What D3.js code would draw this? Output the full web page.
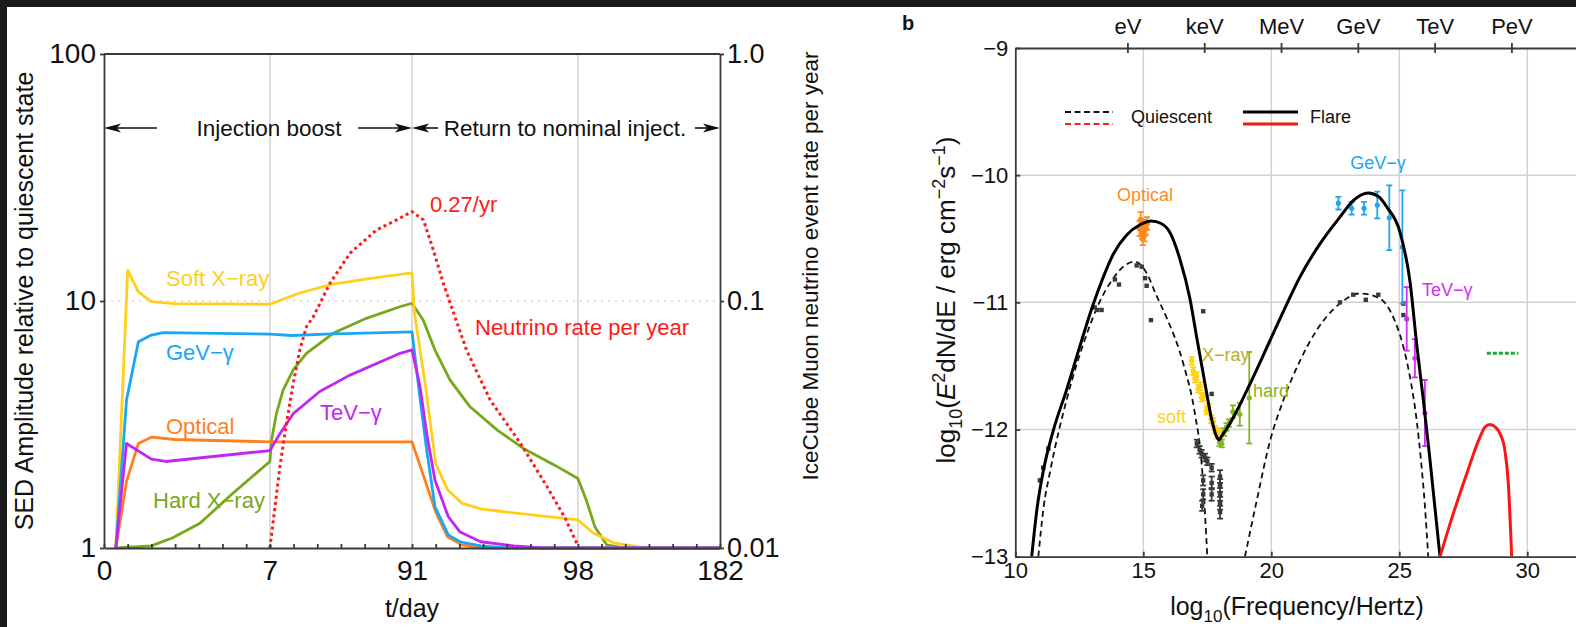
<!DOCTYPE html>
<html><head><meta charset="utf-8">
<script src="https://cdn.jsdelivr.net/npm/d3@7"></script>
<style>body{margin:0;background:#1b1b1b;} svg{display:block;font-family:"Liberation Sans",Arial,sans-serif;}</style>
</head><body><svg id="c" width="1576" height="627"></svg>
<script>
// ---------- Panel a data: [day, amplitude] ----------
const tickDaysA = [0,1,2,3,4,5,6,7,21,35,49,63,77,91,92,93,94,95,96,97,98,112,126,140,154,168,182];
const labelDaysA = [0,7,91,98,182];
const gridDaysA = [7,91,98];
const softXray = [[0.5,1],[1,13.3],[1.45,10.9],[2,9.95],[3,9.75],[7,9.7],[25,10.8],[44,11.7],[72,12.5],[91,13.0],[91.1,9],[91.55,4.66],[92,2.2],[92.5,1.72],[93.1,1.52],[93.9,1.44],[95.2,1.39],[98,1.30],[107,1.15],[119,1.05],[134,1.01],[150,1],[182,1]];
const hardXray = [[0.5,1],[2,1.02],[2.9,1.1],[4.05,1.26],[5.45,1.67],[7,2.24],[8,2.74],[10.9,3.51],[14.8,4.36],[20.8,5.26],[28.6,6.14],[44.4,7.4],[64,8.51],[83.8,9.48],[91,9.79],[91.47,8.38],[91.97,6.33],[92.6,4.79],[93.45,3.73],[94.6,3.0],[95.7,2.53],[97,2.17],[98,1.91],[103,1.56],[108,1.22],[115,1.03],[125,1],[182,1]];
const optical = [[0.5,1],[0.95,1.86],[1.45,2.65],[2,2.81],[3,2.75],[7,2.69],[91,2.69],[92,1.40],[92.5,1.11],[93.1,1.03],[94,1.0],[182,1]];
const gevGamma = [[0.5,1],[0.95,3.97],[1.45,6.84],[2,7.28],[2.5,7.44],[7,7.35],[20,7.25],[40,7.35],[91,7.5],[91.4,3.62],[91.62,2.49],[91.97,1.47],[92.53,1.13],[93.03,1.06],[93.9,1.02],[95,1],[182,1]];
const tevGamma = [[0.5,1],[0.95,2.65],[2,2.29],[2.6,2.24],[7,2.48],[13,2.91],[21,3.51],[36.5,4.3],[54,5.0],[84,6.14],[91,6.34],[91.34,4.5],[91.62,2.91],[91.97,1.88],[92.53,1.34],[93.03,1.16],[93.9,1.06],[95.3,1.02],[96.5,1],[182,1]];
const neutrinoRate = [[7,0.01],[10.04,0.0147],[12.9,0.0213],[16.8,0.032],[20.8,0.0464],[24.7,0.0633],[28.6,0.0787],[32.7,0.0864],[42.5,0.118],[54.3,0.156],[70.1,0.194],[81.9,0.213],[91,0.23],[91.48,0.213],[91.9,0.161],[92.32,0.118],[92.81,0.0864],[93.3,0.0633],[94.3,0.0397],[95.57,0.0266],[96.7,0.0177],[97.5,0.0130],[98,0.0102]];

// ---------- Panel b data: [log10 nu, log10 flux] ----------
const energyNames = ["eV","keV","MeV","GeV","TeV","PeV"];
const energyTicks = [14.38,17.38,20.38,23.38,26.38,29.38];
const flareModel = [[10.64,-13],[10.85,-12.62],[11.09,-12.33],[11.48,-12.01],[12.0,-11.69],[12.5,-11.36],[13.0,-11.04],[13.4,-10.82],[13.83,-10.62],[14.35,-10.47],[14.87,-10.39],[15.3,-10.36],[15.7,-10.38],[16.04,-10.45],[16.43,-10.66],[16.82,-10.97],[17.09,-11.28],[17.41,-11.64],[17.67,-11.92],[17.85,-12.05],[17.95,-12.08],[18.1,-12.04],[18.39,-11.95],[19.17,-11.64],[19.95,-11.30],[20.66,-10.99],[21.12,-10.80],[21.9,-10.54],[22.68,-10.33],[23.2,-10.20],[23.79,-10.14],[24.2,-10.17],[24.51,-10.25],[25.03,-10.45],[25.42,-10.84],[25.68,-11.33],[25.94,-11.77],[26.2,-12.24],[26.59,-13]];
const quiescentSync = [[10.9,-13],[11.1,-12.62],[11.36,-12.33],[12.0,-11.77],[12.79,-11.25],[13.24,-11.02],[13.83,-10.81],[14.35,-10.70],[14.68,-10.68],[15.13,-10.77],[15.52,-10.95],[15.91,-11.12],[16.56,-11.48],[17.02,-11.88],[17.28,-12.27],[17.41,-12.66],[17.5,-13]];
const quiescentIC = [[18.97,-13],[19.43,-12.56],[19.95,-12.09],[20.47,-11.77],[21.12,-11.46],[21.77,-11.22],[22.68,-11.01],[23.46,-10.93],[24.24,-10.97],[24.77,-11.12],[25.16,-11.35],[25.42,-11.59],[25.68,-11.93],[25.85,-12.25],[26.0,-12.6],[26.13,-13]];
const neutrinoModel = [[26.59,-13],[27.0,-12.73],[27.63,-12.35],[28.15,-12.06],[28.35,-11.98],[28.54,-11.96],[28.75,-11.98],[28.93,-12.03],[29.13,-12.17],[29.26,-12.43],[29.39,-13]];
const icecubeLimit = [[28.42,-11.40],[29.65,-11.40]];
const quiescentPts = [[10.96,-12.40,0],[11.09,-12.30,0],[11.29,-12.15,0],[13.1,-11.04,0],[13.2,-11.06,0],[13.37,-11.06,0],[13.89,-10.82,0],[14.05,-10.86,0],[14.74,-10.71,0],[14.94,-10.72,0],[15.07,-10.81,0],[15.13,-10.87,0],[15.3,-11.14,0],[17.34,-11.07,0],[17.67,-11.72,0],[17.09,-12.11,0.03],[17.2,-12.16,0.03],[17.28,-12.19,0.03],[17.41,-12.22,0.03],[17.5,-12.25,0.03],[17.67,-12.30,0.03],[17.34,-12.40,0.04],[17.34,-12.51,0.04],[17.3,-12.6,0.04],[17.67,-12.51,0.05],[17.67,-12.42,0.05],[18.0,-12.37,0.05],[18.0,-12.44,0.05],[18.0,-12.51,0.05],[18.0,-12.58,0.05],[18.0,-12.65,0.05],[22.68,-11.0,0],[23.2,-10.94,0],[23.69,-10.98,0],[24.18,-10.94,0],[25.16,-11.01,0],[25.16,-11.10,0]];
const opticalPts = [[14.85,-10.42,0.06],[14.9,-10.35,0.06],[14.95,-10.45,0.05],[15.0,-10.40,0.05],[15.05,-10.47,0.05],[15.1,-10.42,0.05],[15.15,-10.38,0.05],[14.98,-10.50,0.05]];
const gevPts = [[22.62,-10.22,0.05],[23.14,-10.26,0.05],[23.62,-10.26,0.05],[24.14,-10.235,0.105],[24.61,-10.335,0.255],[25.12,-10.565,0.445]];
const tevPts = [[25.29,-11.13,0.25],[25.61,-11.44,0.15],[26.0,-11.87,0.26]];
const softPts = [[16.89,-11.46,0.03],[16.95,-11.54,0.03],[17.02,-11.6,0.03],[17.08,-11.58,0.03],[17.15,-11.68,0.03],[17.22,-11.66,0.03],[17.28,-11.75,0.03],[17.35,-11.74,0.03],[17.47,-11.85,0.03],[17.55,-11.83,0.03],[17.65,-11.92,0.03],[17.73,-11.94,0.03],[17.8,-12.0,0.03],[17.88,-12.04,0.03],[17.93,-12.02,0.03]];
const hardPts = [[17.98,-12.1,0.03],[18.07,-12.11,0.03],[18.15,-12.02,0.03],[18.25,-11.98,0.03],[18.35,-11.95,0.03],[18.5,-11.86,0.05],[18.77,-11.88,0.09],[19.14,-11.75,0.36]];

const svg = d3.select("#c");
svg.append("rect").attr("x",7).attr("y",7).attr("width",1569).attr("height",620).attr("fill","#fff");
const AX = "#3a3a3a", GRID = "#d2d2d2";

// ================= Panel a =================
const xA = d3.scaleLinear().domain([0,7,91,98,182]).range([104,269.9,412,577.9,720]);
const yA = d3.scaleLog().domain([1,100]).range([548,54]);
const yA2 = d3.scaleLog().domain([0.01,1]).range([548,54]);
const gA = svg.append("g");
gA.append("defs").append("clipPath").attr("id","clipA").append("rect").attr("x",104).attr("y",54).attr("width",616).attr("height",496);
gA.selectAll(".vg").data(gridDaysA).join("line").attr("x1",d=>xA(d)).attr("x2",d=>xA(d)).attr("y1",54).attr("y2",548).attr("stroke",GRID).attr("stroke-width",1.5);
gA.append("line").attr("x1",104).attr("x2",720).attr("y1",yA(10)).attr("y2",yA(10)).attr("stroke","#c4c4c4").attr("stroke-width",1.2).attr("stroke-dasharray","2 5");

const lineA = d3.line().x(d=>xA(d[0])).y(d=>yA(d[1]));
const lineA2 = d3.line().x(d=>xA(d[0])).y(d=>yA2(d[1]));
const seriesA = [[hardXray,"#76a81a"],[softXray,"#ffcf1a"],[optical,"#ff7f1e"],[gevGamma,"#19a7f5"],[tevGamma,"#c326f2"]];
const cg = gA.append("g").attr("clip-path","url(#clipA)");
seriesA.forEach(([d,c])=>cg.append("path").datum(d).attr("d",lineA).attr("fill","none").attr("stroke",c).attr("stroke-width",2.8).attr("stroke-linejoin","round"));
cg.append("path").datum(neutrinoRate).attr("d",lineA2).attr("fill","none").attr("stroke","#ff1a1a").attr("stroke-width",3).attr("stroke-dasharray","3 3.2");

// axes
const axB = gA.append("g").attr("transform","translate(0,548)").call(d3.axisBottom(xA).tickValues(tickDaysA).tickSizeInner(-4).tickSizeOuter(0).tickPadding(12).tickFormat(d=>labelDaysA.includes(d)?d:""));
const axL = gA.append("g").attr("transform","translate(104,0)").call(d3.axisLeft(yA).tickValues([1,10,100]).tickFormat(d3.format("d")).tickSize(4).tickSizeOuter(0).tickPadding(4));
const axR = gA.append("g").attr("transform","translate(720,0)").call(d3.axisRight(yA2).tickValues([0.01,0.1,1]).tickFormat(d=>d===1?"1.0":String(d)).tickSize(4).tickSizeOuter(0).tickPadding(3));
[axB,axL,axR].forEach(a=>{a.selectAll("path,line").attr("stroke",AX).attr("stroke-width",1.8);a.selectAll("text").attr("font-size",28).attr("fill","#111").attr("font-family",null);});
axR.selectAll("text").attr("font-size",27);
gA.append("line").attr("x1",104).attr("x2",720).attr("y1",54).attr("y2",54).attr("stroke",AX).attr("stroke-width",1.8);

// annotation arrows
function arrow(g,x1,x2,y){ // tip at x2
  const dir = x2>x1?1:-1;
  g.append("line").attr("x1",x1).attr("x2",x2-dir*12).attr("y1",y).attr("y2",y).attr("stroke","#111").attr("stroke-width",1.6);
  g.append("path").attr("d",`M${x2},${y}L${x2-dir*17},${y-4.5}L${x2-dir*13},${y}L${x2-dir*17},${y+4.5}Z`).attr("fill","#111");
}
const ay = 128;
arrow(gA,157,104,ay); arrow(gA,358,412,ay); arrow(gA,438,412,ay); arrow(gA,695,720,ay);
gA.append("text").attr("x",269).attr("y",ay).attr("dy","0.36em").attr("text-anchor","middle").attr("font-size",22.5).attr("fill","#111").text("Injection boost");
gA.append("text").attr("x",565).attr("y",ay).attr("dy","0.36em").attr("text-anchor","middle").attr("font-size",22.5).attr("fill","#111").text("Return to nominal inject.");

// series labels
const labsA = [["Soft X−ray",166,278,"#ffcf1a"],["GeV−γ",166,352,"#19a7f5"],["Optical",166,426,"#ff7f1e"],["TeV−γ",320,412,"#c326f2"],["Hard X−ray",153,500,"#76a81a"],["0.27/yr",430,204,"#ff1a1a"],["Neutrino rate per year",475,327,"#ff1a1a"]];
labsA.forEach(([t,x,y,c])=>gA.append("text").attr("x",x).attr("y",y).attr("dy","0.36em").attr("font-size",22).attr("fill",c).text(t));

gA.append("text").attr("x",412).attr("y",617).attr("text-anchor","middle").attr("font-size",25).attr("fill","#111").text("t/day");
gA.append("text").attr("transform","translate(33,301) rotate(-90)").attr("text-anchor","middle").attr("font-size",25).attr("fill","#111").text("SED Amplitude relative to quiescent state");
gA.append("text").attr("transform","translate(818,266) rotate(-90)").attr("text-anchor","middle").attr("font-size",22.5).attr("fill","#111").text("IceCube Muon neutrino event rate per year");

// ================= Panel b =================
const xB = d3.scaleLinear().domain([10,32]).range([1015.3,1578.5]);
const yB = d3.scaleLinear().domain([-13,-9]).range([556.7,48]);
const gB = svg.append("g");
gB.append("defs").append("clipPath").attr("id","clipB").append("rect").attr("x",1015.3).attr("y",48).attr("width",600).attr("height",508.7);
gB.selectAll(".vgb").data([15,20,25,30]).join("line").attr("x1",d=>xB(d)).attr("x2",d=>xB(d)).attr("y1",48).attr("y2",556.7).attr("stroke",GRID).attr("stroke-width",1.5);
gB.selectAll(".hgb").data([-10,-11,-12]).join("line").attr("x1",1015.3).attr("x2",1576).attr("y1",d=>yB(d)).attr("y2",d=>yB(d)).attr("stroke",GRID).attr("stroke-width",1.5);

const cb = gB.append("g").attr("clip-path","url(#clipB)");
const lineB = d3.line().x(d=>xB(d[0])).y(d=>yB(d[1])).curve(d3.curveMonotoneX);
cb.append("path").datum(quiescentSync).attr("d",lineB).attr("fill","none").attr("stroke","#111").attr("stroke-width",1.8).attr("stroke-dasharray","6 4");
cb.append("path").datum(quiescentIC).attr("d",lineB).attr("fill","none").attr("stroke","#111").attr("stroke-width",1.8).attr("stroke-dasharray","6 4");

// data points with error bars
function pts(data,color,shape,r){
  const g = cb.append("g");
  data.forEach(([x,y,e])=>{
    if(e>0){
      g.append("line").attr("x1",xB(x)).attr("x2",xB(x)).attr("y1",yB(y-e)).attr("y2",yB(y+e)).attr("stroke",color).attr("stroke-width",1.8);
      [y-e,y+e].forEach(v=>g.append("line").attr("x1",xB(x)-3).attr("x2",xB(x)+3).attr("y1",yB(v)).attr("y2",yB(v)).attr("stroke",color).attr("stroke-width",1.8));
    }
    if(shape==="sq") g.append("rect").attr("x",xB(x)-r).attr("y",yB(y)-r).attr("width",2*r).attr("height",2*r).attr("fill",color);
    else g.append("circle").attr("cx",xB(x)).attr("cy",yB(y)).attr("r",r).attr("fill",color);
  });
}
pts(quiescentPts,"#3a3a3a","sq",2.2);
pts(opticalPts,"#ff8a1f","c",3);
pts(softPts,"#ffd21a","c",2.8);
pts(hardPts,"#86b524","c",2.6);
pts(gevPts,"#22a4f0","c",2.6);
pts(tevPts,"#d22ef0","c",2.6);

cb.append("path").datum(flareModel).attr("d",lineB).attr("fill","none").attr("stroke","#000").attr("stroke-width",3);
cb.append("path").datum(neutrinoModel).attr("d",lineB).attr("fill","none").attr("stroke","#ff1414").attr("stroke-width",3);
cb.append("path").datum(icecubeLimit).attr("d",d3.line().x(d=>xB(d[0])).y(d=>yB(d[1]))).attr("fill","none").attr("stroke","#22a83a").attr("stroke-width",3).attr("stroke-dasharray","4 2");

// axes b
const bL = gB.append("g").attr("transform","translate(1015.3,0)").call(d3.axisLeft(yB).tickValues([-9,-10,-11,-12,-13]).tickSizeInner(-5).tickSizeOuter(0).tickPadding(7).tickFormat(d=>"−"+Math.abs(d)));
const bB = gB.append("g").attr("transform","translate(0,556.7)").call(d3.axisBottom(xB).tickValues([10,15,20,25,30]).tickSizeInner(-5).tickSizeOuter(0).tickPadding(6).tickFormat(d3.format("d")));
const bT = gB.append("g").attr("transform","translate(0,48)").call(d3.axisTop(xB).tickValues(energyTicks).tickSizeInner(5).tickSizeOuter(0).tickPadding(9).tickFormat((d,i)=>energyNames[i]));
bT.selectAll(".tick line").attr("y1",5).attr("y2",-5);
[bL,bB,bT].forEach(a=>{a.selectAll("path,line").attr("stroke",AX).attr("stroke-width",1.8);a.selectAll("text").attr("font-size",22).attr("fill","#111").attr("font-family",null);});

// legend
const lg = gB.append("g");
lg.append("line").attr("x1",1065).attr("x2",1113).attr("y1",112).attr("y2",112).attr("stroke","#111").attr("stroke-width",1.8).attr("stroke-dasharray","6 3.5");
lg.append("line").attr("x1",1065).attr("x2",1113).attr("y1",124).attr("y2",124).attr("stroke","#ff2020").attr("stroke-width",1.8).attr("stroke-dasharray","6 3.5");
lg.append("text").attr("x",1131).attr("y",117).attr("dy","0.36em").attr("font-size",18).attr("fill","#111").text("Quiescent");
lg.append("line").attr("x1",1243).attr("x2",1298).attr("y1",112).attr("y2",112).attr("stroke","#000").attr("stroke-width",3);
lg.append("line").attr("x1",1243).attr("x2",1298).attr("y1",124).attr("y2",124).attr("stroke","#ff1414").attr("stroke-width",3);
lg.append("text").attr("x",1310).attr("y",117).attr("dy","0.36em").attr("font-size",18).attr("fill","#111").text("Flare");

const labsB = [["Optical",1145,195,"#ff8a1f","middle"],["GeV−γ",1378,163,"#22a4f0","middle"],["TeV−γ",1422,290,"#d22ef0","start"],["X−ray",1202,355,"#b8b020","start"],["soft",1157,417,"#ffd21a","start"],["hard",1253,391,"#86b524","start"]];
labsB.forEach(([t,x,y,c,a])=>gB.append("text").attr("x",x).attr("y",y).attr("dy","0.36em").attr("text-anchor",a).attr("font-size",18).attr("fill",c).text(t));

gB.append("text").attr("x",902).attr("y",30).attr("font-size",20).attr("font-weight","bold").attr("fill","#111").text("b");

// axis titles b
const xt = gB.append("text").attr("x",1297).attr("y",615).attr("text-anchor","middle").attr("font-size",25).attr("fill","#111");
xt.append("tspan").text("log");
xt.append("tspan").attr("dy",7).attr("font-size",17).text("10");
xt.append("tspan").attr("dy",-7).text("(Frequency/Hertz)");
const yt = gB.append("text").attr("transform","translate(955,300) rotate(-90)").attr("text-anchor","middle").attr("font-size",26).attr("fill","#111");
yt.append("tspan").text("log");
yt.append("tspan").attr("dy",7).attr("font-size",18).text("10");
yt.append("tspan").attr("dy",-7).text("(");
yt.append("tspan").attr("font-style","italic").text("E");
yt.append("tspan").attr("dy",-10).attr("font-size",18).text("2");
yt.append("tspan").attr("dy",10).text("dN/dE / erg cm");
yt.append("tspan").attr("dy",-10).attr("font-size",18).text("−2");
yt.append("tspan").attr("dy",10).text("s");
yt.append("tspan").attr("dy",-10).attr("font-size",18).text("−1");
yt.append("tspan").attr("dy",10).text(")");
</script></body></html>
